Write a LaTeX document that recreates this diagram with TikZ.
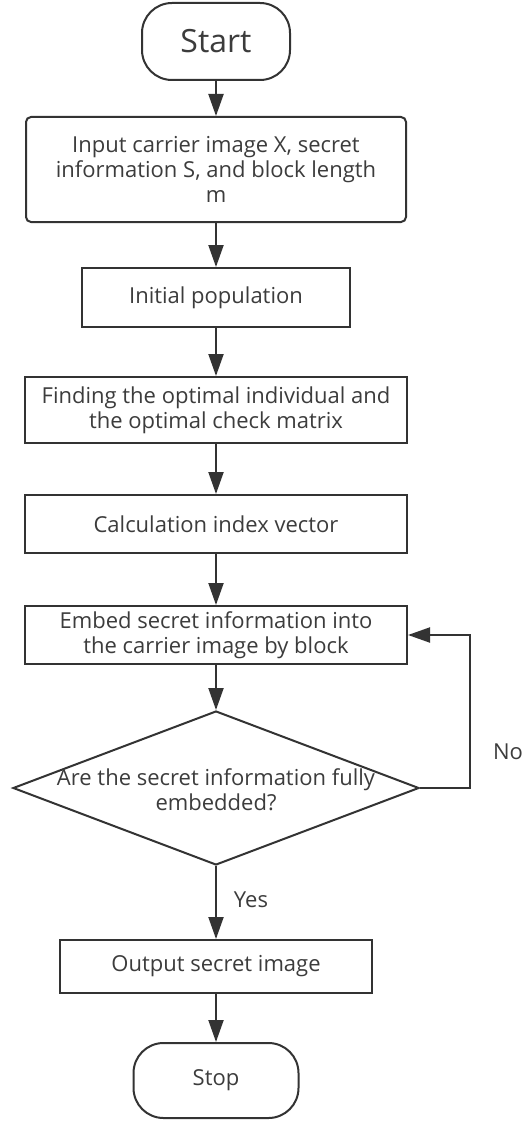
\documentclass[tikz,border=0pt]{standalone}
\usepackage{fontspec}
\setmainfont{Open Sans}
\usetikzlibrary{arrows.meta,shapes.geometric}
\definecolor{ink}{RGB}{51,51,51}
\definecolor{txt}{RGB}{60,60,60}
\tikzset{
  box/.style={draw=ink, line width=2pt, inner sep=0pt, align=center, text=txt, font=\fontsize{22}{25}\selectfont},
  term/.style={box, rounded corners=30pt},
  arr/.style={draw=ink, line width=2pt, -{Triangle[length=22pt,width=15pt]}},
  lbl/.style={text=txt, font=\fontsize{22}{25}\selectfont, inner sep=0pt}
}
\begin{document}
\begin{tikzpicture}[x=1pt,y=-1pt]
\useasboundingbox[fill=white] (0,0) rectangle (522,1121);
\node[term, minimum width=148pt, minimum height=77pt, font=\fontsize{32}{35}\selectfont] (start) at (216,41.5) {Start};
\node[box, rounded corners=5pt, minimum width=380pt, minimum height=105pt] (input) at (216,169.5) {Input carrier image X, secret\\information S, and block length\\m};
\node[box, minimum width=268pt, minimum height=59pt] (init) at (216,297.5) {Initial population};
\node[box, minimum width=382pt, minimum height=66pt] (find) at (216,410) {Finding the optimal individual and\\the optimal check matrix};
\node[box, minimum width=382pt, minimum height=58pt] (calc) at (216,524) {Calculation index vector};
\node[box, minimum width=382pt, minimum height=58pt] (embed) at (216,635) {Embed secret information into\\the carrier image by block};
\node[draw=ink, line width=2pt, diamond, minimum width=406pt, minimum height=154pt, inner sep=0pt] (dec) at (216,788) {};
\node[lbl, align=center] (dectext) at (216,790) {Are the secret information fully\\embedded?};
\node[box, minimum width=312pt, minimum height=53pt] (out) at (216,966.5) {Output secret image};
\node[term, minimum width=165pt, minimum height=75pt] (stop) at (216,1080.5) {Stop};
\coordinate (loop) at (470,788);
\node[lbl] (no) at (508,752) {No};
\node[lbl] (yes) at (251,900) {Yes};
\draw[arr] (start) -- (input);
\draw[arr] (input) -- (init);
\draw[arr] (init) -- (find);
\draw[arr] (find) -- (calc);
\draw[arr] (calc) -- (embed);
\draw[arr] (embed) -- (dec.north);
\draw[arr] (dec.south) -- (out);
\draw[arr] (out) -- (stop);
\draw[arr] (dec.east) -- (loop) |- (embed.east);
\end{tikzpicture}
\end{document}
